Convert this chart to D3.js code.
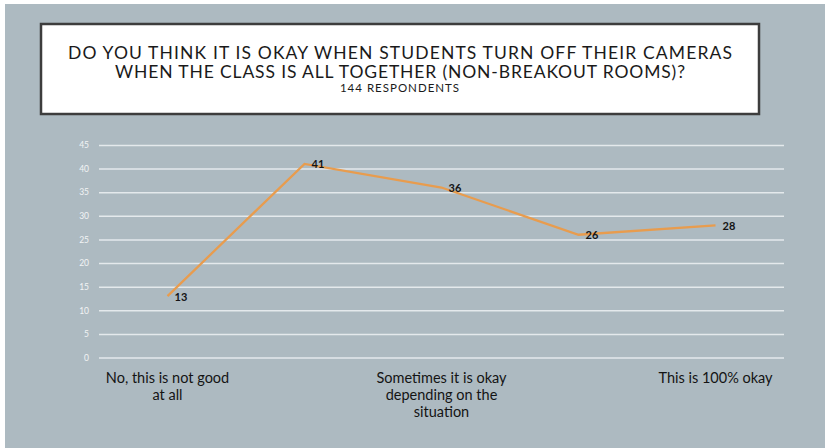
<!DOCTYPE html>
<html>
<head>
<meta charset="utf-8">
<script src="https://cdn.jsdelivr.net/npm/d3@7/dist/d3.min.js"></script>
<style>
  html, body { margin: 0; padding: 0; background: #ffffff; }
  svg { display: block; }
  text { font-family: Lato, "Open Sans", sans-serif; }
</style>
</head>
<body>
<svg id="chart" width="825" height="448"></svg>
<script>
// Survey answers (only the scale ends and midpoint carry a label)
const categories = [
  "No, this is not good at all",
  "",
  "Sometimes it is okay depending on the situation",
  "",
  "This is 100% okay"
];
const responses = [13, 41, 36, 26, 28];
const yTicks = [0, 5, 10, 15, 20, 25, 30, 35, 40, 45];
const titleLines = [
  "DO YOU THINK IT IS OKAY WHEN STUDENTS TURN OFF THEIR CAMERAS",
  "WHEN THE CLASS IS ALL TOGETHER (NON-BREAKOUT ROOMS)?"
];
const subtitle = "144 RESPONDENTS";

const svg = d3.select("#chart");
const W = 825, H = 448;

// slide background
svg.append("rect").attr("x", 5).attr("y", 4).attr("width", W - 5).attr("height", H - 4)
  .attr("fill", "#adbac1");

// title box
svg.append("rect").attr("x", 41).attr("y", 24).attr("width", 718).attr("height", 90)
  .attr("fill", "#ffffff").attr("stroke", "#3d3d3d").attr("stroke-width", 2.5);

const titleW = [664, 570];
titleLines.forEach((t, i) => {
  svg.append("text")
    .attr("x", 400).attr("y", 58.5 + i * 19)
    .attr("text-anchor", "middle")
    .attr("font-size", 17.5)
    .attr("fill", "#1a1a1a")
    .attr("textLength", titleW[i]).attr("lengthAdjust", "spacing")
    .text(t);
});
svg.append("text")
  .attr("x", 400).attr("y", 92)
  .attr("text-anchor", "middle")
  .attr("font-size", 11.5)
  .attr("fill", "#1a1a1a")
  .attr("letter-spacing", 1)
  .text(subtitle);

// plot area
const plotL = 99, plotR = 784, plotT = 145, plotB = 357.5;
const x = d3.scaleBand().domain(d3.range(categories.length)).range([plotL, plotR]);
const cx = i => x(i) + x.bandwidth() / 2;
const y = d3.scaleLinear().domain([0, 45]).range([plotB, plotT]);

// gridlines
const yAxis = d3.axisLeft(y).tickValues(yTicks).tickSize(-(plotR - plotL)).tickPadding(10);
const gy = svg.append("g").attr("transform", `translate(${plotL},0)`).call(yAxis);
gy.select(".domain").remove();
gy.selectAll(".tick line").attr("stroke", "#e4e9ec").attr("stroke-width", 1.5);
gy.selectAll(".tick text").attr("fill", "#f2f4f5").attr("font-size", 8.5)
  .attr("font-family", "Lato, sans-serif");

// category labels, wrapped to the band width
const xAxis = d3.axisBottom(x).tickSize(0).tickFormat(i => categories[i]);
const gx = svg.append("g").attr("transform", `translate(0,${plotB})`).call(xAxis);
gx.select(".domain").remove();
gx.selectAll(".tick text")
  .attr("fill", "#141414").attr("font-size", 14.5)
  .attr("font-family", "Lato, sans-serif")
  .attr("dy", null).attr("y", 0)
  .each(function () {
    const t = d3.select(this);
    const words = t.text().split(/\s+/).filter(Boolean);
    t.text(null);
    let words1 = [];
    let n = 0;
    let ts = t.append("tspan").attr("x", 0).attr("y", 25);
    words.forEach(w => {
      words1.push(w);
      ts.text(words1.join(" "));
      if (ts.node().getComputedTextLength() > 134 && words1.length > 1) {
        words1.pop();
        ts.text(words1.join(" "));
        words1 = [w];
        n++;
        ts = t.append("tspan").attr("x", 0).attr("y", 25 + n * 17).text(w);
      }
    });
  });

// response line
const lineGen = d3.line().x((d, i) => cx(i)).y(d => y(d));
svg.append("path").datum(responses)
  .attr("d", lineGen)
  .attr("fill", "none")
  .attr("stroke", "#e89c4e")
  .attr("stroke-width", 2.3)
  .attr("stroke-linejoin", "miter");

// value labels
svg.selectAll(".val").data(responses).enter().append("text")
  .attr("class", "val")
  .attr("x", (d, i) => cx(i) + 7)
  .attr("y", d => y(d) + 4.5)
  .attr("font-size", 11)
  .attr("font-weight", "bold")
  .attr("fill", "#141414")
  .text(d => d);
</script>
</body>
</html>
